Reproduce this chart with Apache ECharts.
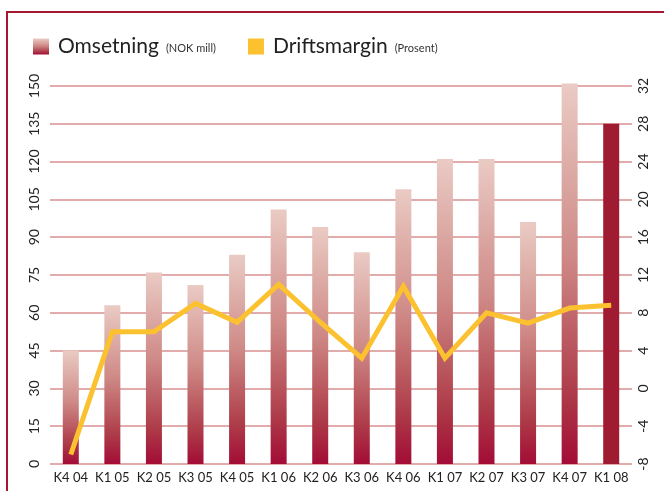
<!DOCTYPE html>
<html>
<head>
<meta charset="utf-8">
<script src="https://cdn.jsdelivr.net/npm/echarts@6/dist/echarts.min.js"></script>
<style>
    body { margin: 0; background: #fff; }
    #chart { width: 664px; height: 491px; }
</style>
</head>
<body>
<div id="chart"></div>
<script>
    // kvartaler
    const quarters = ['K4 04', 'K1 05', 'K2 05', 'K3 05', 'K4 05', 'K1 06', 'K2 06',
        'K3 06', 'K4 06', 'K1 07', 'K2 07', 'K3 07', 'K4 07', 'K1 08']
    // Omsetning (NOK mill)
    const omsetning = [45, 63, 76, 71, 83, 101, 94, 84, 109, 121, 121, 96, 151, 135]
    // Driftsmargin (Prosent)
    const driftsmargin = [-7, 6, 6, 9, 7, 11, 7, 3.2, 10.8, 3.2, 8, 6.9, 8.5, 8.8]

    let chart = echarts.init(document.getElementById('chart'))
    let font = 'Lato, "Open Sans", sans-serif'

    let barGradient = new echarts.graphic.LinearGradient(0, 0, 0, 1, [
        {offset: 0, color: '#eacbc4'},
        {offset: 0.45, color: '#cf8a87'},
        {offset: 0.82, color: '#ad3a48'},
        {offset: 1, color: '#a30c36'}
    ])

    let options = {
        animation: false,
        textStyle: {fontFamily: font},
        graphic: [
            {
                type: 'polyline',
                shape: {points: [[7, 491], [7, 12], [664, 12]]},
                style: {stroke: '#a3182f', lineWidth: 2, fill: null}
            }
        ],
        legend: {
            left: 28,
            top: 31,
            itemWidth: 16,
            itemHeight: 16,
            itemGap: 32,
            icon: 'rect',
            formatter: name => name === 'Omsetning'
                ? '{a|Omsetning}{b|(NOK mill)}'
                : '{a|Driftsmargin}{b|(Prosent)}',
            textStyle: {
                padding: [0, 0, 0, 4],
                rich: {
                    a: {fontSize: 21, color: '#222', fontFamily: font},
                    b: {fontSize: 11, color: '#333', fontFamily: font, padding: [4, 0, 0, 7]}
                }
            },
            data: ['Omsetning', 'Driftsmargin']
        },
        grid: {
            left: 50,
            right: 32,
            top: 86,
            bottom: 27
        },
        xAxis: {
            type: 'category',
            data: quarters,
            axisLine: {show: false},
            axisTick: {show: false},
            axisLabel: {
                color: '#222',
                fontSize: 13,
                margin: 7,
                interval: 0
            }
        },
        yAxis: [
            {
                type: 'value',
                min: 0,
                max: 150,
                interval: 15,
                axisLine: {show: false},
                axisTick: {show: false},
                axisLabel: {
                    rotate: 90,
                    color: '#222',
                    fontSize: 14,
                    margin: 9
                },
                splitLine: {
                    lineStyle: {color: '#d98f91', width: 1.6}
                }
            },
            {
                type: 'value',
                min: -8,
                max: 32,
                interval: 4,
                axisLine: {show: false},
                axisTick: {show: false},
                splitLine: {show: false},
                axisLabel: {
                    rotate: 90,
                    color: '#222',
                    fontSize: 14,
                    margin: 4
                }
            }
        ],
        series: [
            {
                name: 'Omsetning',
                type: 'bar',
                barWidth: 16,
                clip: false,
                itemStyle: {color: barGradient},
                data: omsetning.map((v, i) => i === omsetning.length - 1
                    ? {value: v, itemStyle: {color: '#9e1b32'}}
                    : v)
            },
            {
                name: 'Driftsmargin',
                type: 'line',
                yAxisIndex: 1,
                symbol: 'none',
                data: driftsmargin,
                itemStyle: {color: '#fbc12f'},
                lineStyle: {color: '#fbc12f', width: 5, join: 'miter'}
            }
        ]
    }
    chart.setOption(options)
</script>
</body>
</html>
